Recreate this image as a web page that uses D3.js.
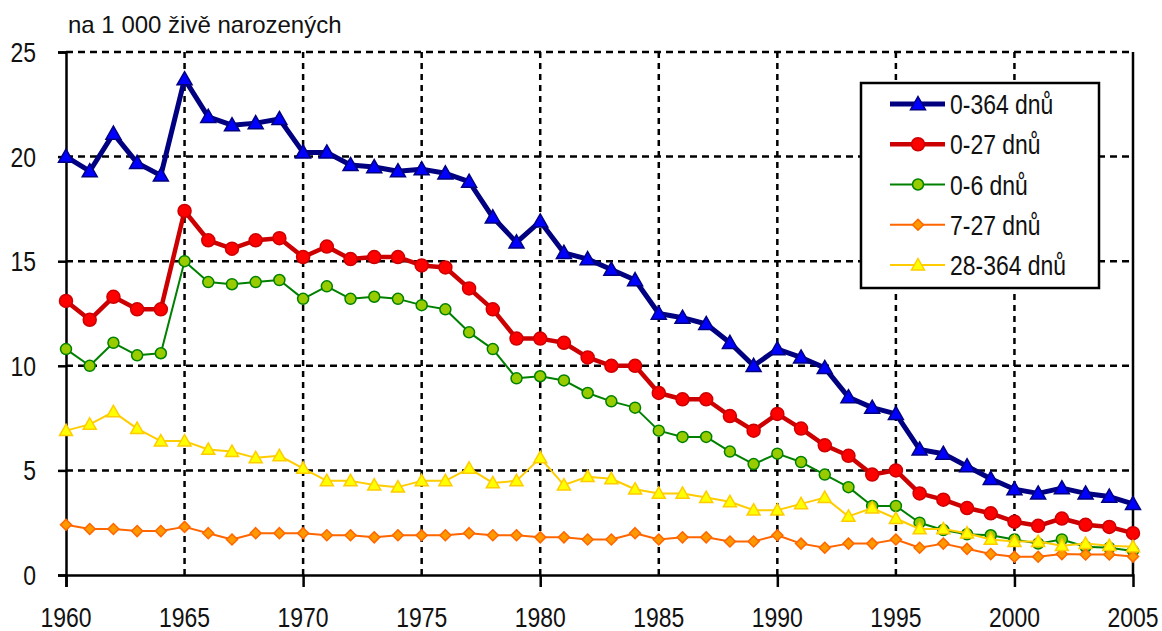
<!DOCTYPE html>
<html>
<head>
<meta charset="utf-8">
<script src="https://cdn.jsdelivr.net/npm/d3@7"></script>
<style>
    body { margin: 0; background: #fff; }
    svg text { font-family: "Liberation Sans", Arial, sans-serif; fill: #111; }
</style>
</head>
<body>
<svg id="chart" width="1162" height="631"></svg>
<script>

// roky 1960 - 2005
var years = d3.range(1960, 2006);

var kojenecka = [20.0, 19.3, 21.1, 19.7, 19.1, 23.7, 21.9, 21.5, 21.6, 21.8,
                 20.2, 20.2, 19.6, 19.5, 19.3, 19.4, 19.2, 18.8, 17.1, 15.9,
                 16.9, 15.4, 15.1, 14.6, 14.1, 12.5, 12.3, 12.0, 11.1, 10.0,
                 10.8, 10.4, 9.9, 8.5, 8.0, 7.7, 6.0, 5.8, 5.2, 4.6,
                 4.1, 3.9, 4.15, 3.9, 3.75, 3.4];

var novorozenecka = [13.1, 12.2, 13.3, 12.7, 12.7, 17.4, 16.0, 15.6, 16.0, 16.1,
                     15.2, 15.7, 15.1, 15.2, 15.2, 14.8, 14.7, 13.7, 12.7, 11.3,
                     11.3, 11.1, 10.4, 10.0, 10.0, 8.7, 8.4, 8.4, 7.6, 6.9,
                     7.7, 7.0, 6.2, 5.7, 4.8, 5.0, 3.9, 3.6, 3.2, 2.95,
                     2.55, 2.35, 2.7, 2.4, 2.3, 2.0];

var casna = [10.8, 10.0, 11.1, 10.5, 10.6, 15.0, 14.0, 13.9, 14.0, 14.1,
             13.2, 13.8, 13.2, 13.3, 13.2, 12.9, 12.7, 11.6, 10.8, 9.4,
             9.5, 9.3, 8.7, 8.3, 8.0, 6.9, 6.6, 6.6, 5.9, 5.3,
             5.8, 5.4, 4.8, 4.2, 3.3, 3.3, 2.5, 2.15, 1.95, 1.9,
             1.7, 1.5, 1.7, 1.35, 1.3, 1.15];

var pozdni = [2.4, 2.2, 2.2, 2.1, 2.1, 2.3, 2.0, 1.7, 2.0, 2.0,
              2.0, 1.9, 1.9, 1.8, 1.9, 1.9, 1.9, 2.0, 1.9, 1.9,
              1.8, 1.8, 1.7, 1.7, 2.0, 1.7, 1.8, 1.8, 1.6, 1.6,
              1.9, 1.5, 1.3, 1.5, 1.5, 1.7, 1.3, 1.5, 1.25, 1.0,
              0.87, 0.87, 1.0, 0.98, 0.98, 0.88];

var ponovorozenecka = [6.9, 7.2, 7.8, 7.0, 6.4, 6.4, 6.0, 5.9, 5.6, 5.7,
                       5.1, 4.5, 4.5, 4.3, 4.2, 4.5, 4.5, 5.1, 4.4, 4.5,
                       5.6, 4.3, 4.7, 4.6, 4.1, 3.9, 3.9, 3.7, 3.5, 3.1,
                       3.1, 3.4, 3.7, 2.8, 3.2, 2.7, 2.2, 2.2, 2.0, 1.7,
                       1.6, 1.6, 1.4, 1.5, 1.4, 1.35];

var seriesNames = ["0-364 dnů", "0-27 dnů", "0-6 dnů", "7-27 dnů", "28-364 dnů"];
var yTicks = [0, 5, 10, 15, 20, 25];
var xLabels = d3.range(1960, 2006, 5);

var svg = d3.select("#chart");

var x = d3.scaleLinear().domain([1960, 2005]).range([66, 1133]);
var y = d3.scaleLinear().domain([0, 25]).range([575, 52]);

// uzke pismo neni k dispozici -> stlacime text vodorovne
var narrow = 0.82;

function narrowText(g, px, py, anchor, size, txt) {
    return g.append("text")
        .attr("transform", "translate(" + px + "," + py + ") scale(" + narrow + ",1)")
        .attr("text-anchor", anchor)
        .style("font-size", size + "px")
        .text(txt);
}

// styl jednotlivych rad
var styles = [
    { data: kojenecka,       line: "#000080", lw: 5,   fill: "#0000ff", marker: "triangle", size: 7.5 },
    { data: novorozenecka,   line: "#cc0000", lw: 4.5, fill: "#ff0000", marker: "circle",   size: 6.5 },
    { data: casna,           line: "#008000", lw: 2,   fill: "#99cc00", marker: "circle",   size: 5.5 },
    { data: pozdni,          line: "#ff6600", lw: 2,   fill: "#ff9900", marker: "diamond",  size: 5.5 },
    { data: ponovorozenecka, line: "#ffcc00", lw: 2,   fill: "#ffff00", marker: "triangle", size: 6.5 }
];

function markerPath(type, s) {
    if (type == "triangle") {
        return "M0," + (-s) + "L" + s + "," + (s * 0.75) + "L" + (-s) + "," + (s * 0.75) + "Z";
    }
    if (type == "diamond") {
        return "M0," + (-s) + "L" + s + ",0L0," + s + "L" + (-s) + ",0Z";
    }
    return d3.symbol().type(d3.symbolCircle).size(Math.PI * s * s)();
}

// mrizka
var grid = svg.append("g");

grid.selectAll(".hgrid")
    .data(yTicks.filter(function (d) { return d > 0; }))
    .enter().append("line")
    .attr("x1", x(1960)).attr("x2", x(2005))
    .attr("y1", function (d) { return y(d); })
    .attr("y2", function (d) { return y(d); })
    .style("stroke", "#000")
    .style("stroke-width", 2.5)
    .style("stroke-dasharray", "7,5");

grid.selectAll(".vgrid")
    .data(xLabels.filter(function (d) { return d > 1960 && d < 2005; }))
    .enter().append("line")
    .attr("x1", function (d) { return x(d); })
    .attr("x2", function (d) { return x(d); })
    .attr("y1", y(25)).attr("y2", y(0))
    .style("stroke", "#000")
    .style("stroke-width", 2.5)
    .style("stroke-dasharray", "6,5");

// pravy okraj
grid.append("line")
    .attr("x1", x(2005)).attr("x2", x(2005))
    .attr("y1", y(25)).attr("y2", y(0))
    .style("stroke", "#000")
    .style("stroke-width", 2.5);

// osy
var yAxis = d3.axisLeft(y).tickValues(yTicks).tickSize(8).tickFormat("");
var xAxis = d3.axisBottom(x).tickValues(d3.range(1960, 2006, 10)).tickSize(12).tickFormat("");

var gy = svg.append("g").attr("transform", "translate(" + x(1960) + ",0)").call(yAxis);
var gx = svg.append("g").attr("transform", "translate(0," + y(0) + ")").call(xAxis);

[gy, gx].forEach(function (g) {
    g.select(".domain").style("stroke", "#000").style("stroke-width", 2.5);
    g.selectAll(".tick line").style("stroke", "#000").style("stroke-width", 2.5);
});

var labels = svg.append("g");
yTicks.forEach(function (t) {
    narrowText(labels, 36, y(t) + 10, "end", 28, t);
});
xLabels.forEach(function (t) {
    narrowText(labels, x(t), 627, "middle", 28, t);
});

// popisek jednotek
svg.append("text")
    .attr("x", 68).attr("y", 33)
    .style("font-size", "24px")
    .text("na 1 000 živě narozených");

// rady
var line = d3.line()
    .x(function (d, i) { return x(years[i]); })
    .y(function (d) { return y(d); });

styles.forEach(function (s) {
    var g = svg.append("g");
    g.append("path")
        .datum(s.data)
        .attr("d", line)
        .style("fill", "none")
        .style("stroke", s.line)
        .style("stroke-width", s.lw)
        .style("stroke-linejoin", "round");

    g.selectAll(".m")
        .data(s.data)
        .enter().append("path")
        .attr("transform", function (d, i) { return "translate(" + x(years[i]) + "," + y(d) + ")"; })
        .attr("d", markerPath(s.marker, s.size))
        .style("fill", s.fill)
        .style("stroke", s.line)
        .style("stroke-width", 1.5);
});

// legenda
var legend = svg.append("g");
legend.append("rect")
    .attr("x", 861).attr("y", 83)
    .attr("width", 238).attr("height", 205)
    .style("fill", "#fff")
    .style("stroke", "#000")
    .style("stroke-width", 2.5);

var legendY = d3.scalePoint().domain(seriesNames).range([104, 265]);

styles.forEach(function (s, i) {
    var ly = legendY(seriesNames[i]);
    legend.append("line")
        .attr("x1", 890).attr("x2", 945)
        .attr("y1", ly).attr("y2", ly)
        .style("stroke", s.line)
        .style("stroke-width", s.lw);
    legend.append("path")
        .attr("transform", "translate(918," + ly + ")")
        .attr("d", markerPath(s.marker, s.size))
        .style("fill", s.fill)
        .style("stroke", s.line)
        .style("stroke-width", 1.5);
    narrowText(legend, 950, ly + 10, "start", 28, seriesNames[i]);
});

</script>
</body>
</html>
